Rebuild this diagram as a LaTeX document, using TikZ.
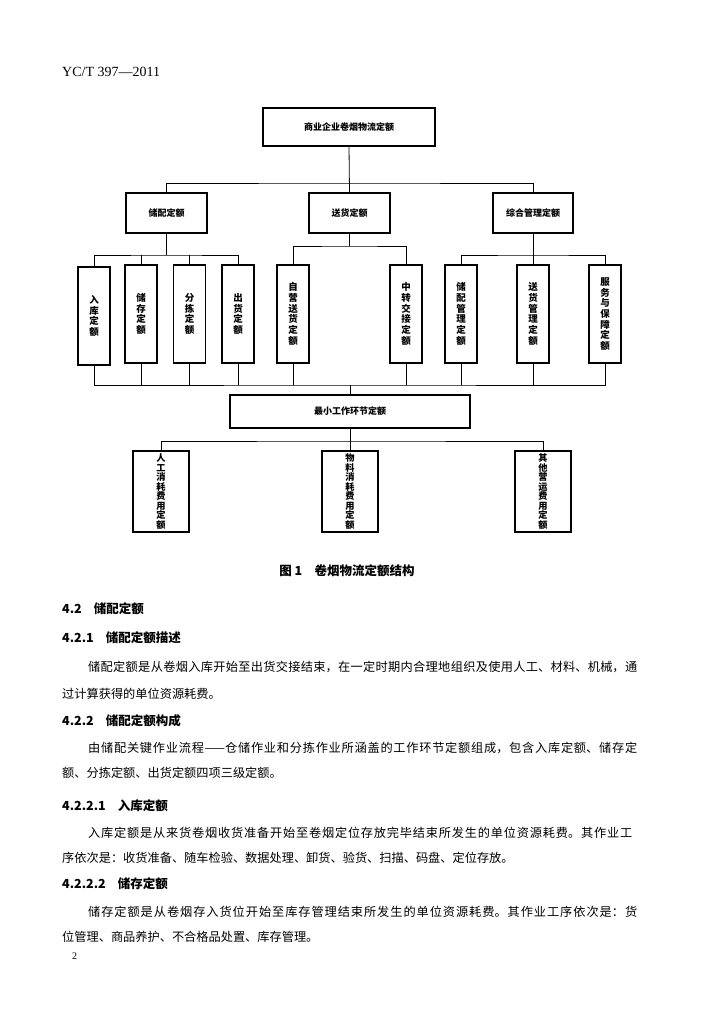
\documentclass[tikz,border=0pt]{standalone}
\usepackage{fontspec}
\newfontfamily\cjk{Noto Sans CJK SC}
\newfontfamily\lserif{Liberation Serif}
\newcommand\jline[2]{\parbox{#1}{\XeTeXlinebreaklocale "zh"\XeTeXlinebreakskip=0pt plus 6pt\parfillskip=0pt\tolerance=10000\hbadness=10000\noindent #2}}
\tikzset{
  box/.style={draw, line width=1.1pt, rectangle, inner sep=0pt, align=center,
    font={\cjk\bfseries\fontsize{9.5}{10.7}\selectfont}},
  hbox/.style={box, minimum width=81pt, minimum height=40pt},
  tallbox/.style={box, minimum width=32pt, minimum height=98pt},
  lowbox/.style={box, minimum width=56pt, minimum height=81pt,
    font={\cjk\bfseries\fontsize{9.2}{9.5}\selectfont}},
  link/.style={line width=0.8pt},
  body/.style={anchor=west, inner sep=0pt, font={\cjk\fontsize{12.2}{14}\selectfont}},
  head/.style={anchor=west, inner sep=0pt, font={\cjk\bfseries\fontsize{12.5}{14}\selectfont}}
}
\begin{document}
\begin{tikzpicture}[x=1pt,y=-1pt]
\useasboundingbox[fill=white] (0,0) rectangle (701,1024);

% header
\node[anchor=west, inner sep=0pt, font={\lserif\fontsize{14}{16}\selectfont}] (hdr) at (62,72) {YC/T 397—2011};

% level 1
\node[box, minimum width=172pt, minimum height=38pt, font={\cjk\bfseries\fontsize{9}{10.5}\selectfont}] (top) at (349,127) {商业企业卷烟物流定额};
% level 2
\node[hbox, font={\cjk\bfseries\fontsize{9}{10.5}\selectfont}] (cp) at (166.5,213) {储配定额};
\node[hbox, font={\cjk\bfseries\fontsize{9}{10.5}\selectfont}] (sh) at (349.5,213) {送货定额};
\node[hbox, minimum width=80pt, font={\cjk\bfseries\fontsize{9}{10.5}\selectfont}] (zh) at (533,213) {综合管理定额};
% level 3
\node[tallbox] (rk) at (94,316) {入\\库\\定\\额};
\node[tallbox] (cc) at (141,314) {储\\存\\定\\额};
\node[tallbox] (fj) at (189.5,314) {分\\拣\\定\\额};
\node[tallbox] (ch) at (238,314) {出\\货\\定\\额};
\node[tallbox] (zy) at (293,314) {自\\营\\送\\货\\定\\额};
\node[tallbox] (zz) at (406,314) {中\\转\\交\\接\\定\\额};
\node[tallbox] (cg) at (461,314) {储\\配\\管\\理\\定\\额};
\node[tallbox] (sg) at (533,314) {送\\货\\管\\理\\定\\额};
\node[tallbox] (fw) at (605,314) {服\\务\\与\\保\\障\\定\\额};
% level 4
\node[box, minimum width=240pt, minimum height=33pt, font={\cjk\bfseries\fontsize{9}{10.5}\selectfont}] (min) at (350,411.5) {最小工作环节定额};
% level 5
\node[lowbox] (rg) at (161,491.5) {人\\工\\消\\耗\\费\\用\\定\\额};
\node[lowbox] (wl) at (350,491.5) {物\\料\\消\\耗\\费\\用\\定\\额};
\node[lowbox] (qt) at (543,491.5) {其\\他\\营\\运\\费\\用\\定\\额};

% junctions
\coordinate (j1) at (349,183);
\coordinate (j2) at (166.5,255);
\coordinate (j3) at (349.5,246);
\coordinate (j4) at (533,255);
\coordinate (j5) at (350,385);
\coordinate (j6) at (350,441);

% connectors
\draw[link] (top.south) -- (sh.north);
\draw[link] (cp.north) |- (j1) -| (zh.north);

\draw[link] (cp.south) -- (j2);
\draw[link] (rk.north) |- (j2) -| (ch.north);
\draw[link] (cc.north) -- (cc.north |- j2);
\draw[link] (fj.north) -- (fj.north |- j2);

\draw[link] (sh.south) -- (j3);
\draw[link] (zy.north) |- (j3) -| (zz.north);

\draw[link] (zh.south) -- (sg.north);
\draw[link] (cg.north) |- (j4) -| (fw.north);

\draw[link] (rk.south) |- (j5) -| (fw.south);
\foreach \n in {cc,fj,ch,zy,zz,cg,sg} \draw[link] (\n.south) -- (\n.south |- j5);
\draw[link] (j5) -- (min.north);

\draw[link] (min.south) -- (j6);
\draw[link] (rg.north) |- (j6) -| (qt.north);
\draw[link] (j6) -- (wl.north);

% caption
\node[inner sep=0pt, font={\cjk\bfseries\fontsize{12.5}{14}\selectfont}] (cap) at (347,571) {图\ 1\quad 卷烟物流定额结构};

% text
\node[head] (h1) at (62,609) {4.2\hspace{12pt}储配定额};
\node[head] (h2) at (62,638) {4.2.1\hspace{12pt}储配定额描述};
\node[body] (p1a) at (88,667) {\jline{549pt}{储配定额是从卷烟入库开始至出货交接结束，在一定时期内合理地组织及使用人工、材料、机械，通}};
\node[body] (p1b) at (62,694) {过计算获得的单位资源耗费。};
\node[head] (h3) at (62,721) {4.2.2\hspace{12pt}储配定额构成};
\node[body] (p2a) at (88,748) {\jline{549pt}{由储配关键作业流程——仓储作业和分拣作业所涵盖的工作环节定额组成，包含入库定额、储存定}};
\node[body] (p2b) at (62,773) {额、分拣定额、出货定额四项三级定额。};
\node[head] (h4) at (62,806) {4.2.2.1\hspace{12pt}入库定额};
\node[body] (p3a) at (88,833) {\jline{544pt}{入库定额是从来货卷烟收货准备开始至卷烟定位存放完毕结束所发生的单位资源耗费。其作业工}};
\node[body] (p3b) at (62,858) {序依次是：收货准备、随车检验、数据处理、卸货、验货、扫描、码盘、定位存放。};
\node[head] (h5) at (62,884) {4.2.2.2\hspace{12pt}储存定额};
\node[body] (p4a) at (88,912) {\jline{549pt}{储存定额是从卷烟存入货位开始至库存管理结束所发生的单位资源耗费。其作业工序依次是：货}};
\node[body] (p4b) at (62,937) {位管理、商品养护、不合格品处置、库存管理。};
\node[anchor=west, inner sep=0pt, font={\lserif\fontsize{10}{12}\selectfont}] (pg) at (72,956) {2};
\end{tikzpicture}
\end{document}
